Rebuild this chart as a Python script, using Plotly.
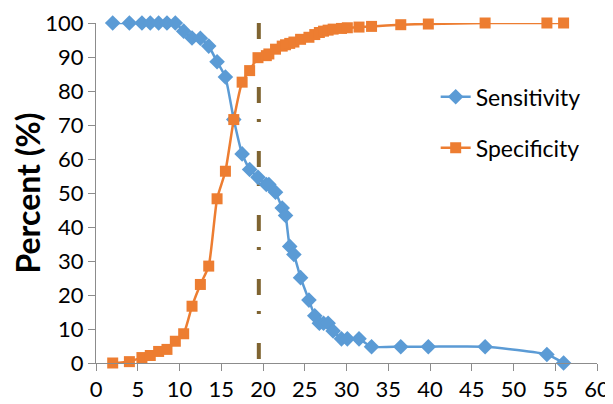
import plotly.graph_objects as go

cutoff = [2, 4, 5.5, 6.5, 7.5, 8.5, 9.5, 10.5, 11.5, 12.5, 13.5, 14.5, 15.5, 16.5,
          17.5, 18.4, 19.4, 20.4, 20.7, 21.5, 22.3, 22.7, 23.2, 23.7, 24.5, 25.5,
          26.2, 26.75, 27.25, 27.8, 28.4, 29.4, 30.1, 31.5, 33, 36.5, 39.8, 46.6, 54, 56]
sensitivity = [100, 100, 100, 100, 100, 100, 100, 97.6, 95.6, 95.5, 93.2, 88.6, 84.1, 71.6,
               61.5, 56.9, 54.6, 52.5, 52.5, 50.2, 45.6, 43.4, 34.3, 31.9, 25.1, 18.5,
               13.9, 11.7, 11.7, 11.7, 9.4, 7.1, 7.1, 7.1, 4.8, 4.8, 4.8, 4.8, 2.5, 0]
specificity = [0, 0.4, 1.6, 2.2, 3.4, 4.0, 6.4, 8.6, 16.7, 23.1, 28.5, 48.3, 56.4, 71.6,
               82.6, 86.0, 89.8, 90.4, 90.9, 92.3, 93.2, 93.6, 94.0, 94.4, 95.2, 95.8,
               96.6, 97.2, 97.6, 97.9, 98.2, 98.4, 98.6, 98.8, 99.0, 99.5, 99.7, 100, 100, 100]
cutoff_line_x = [19.5, 19.5]
cutoff_line_y = [100, 0]
x_ticks = list(range(0, 61, 5))
y_ticks = list(range(0, 101, 10))

BLUE = "#5B9BD5"
ORANGE = "#ED7D31"
AXIS = "#8C8C8C"
FONT = "Lato"

fig = go.Figure()
fig.add_trace(go.Scatter(
    x=cutoff_line_x, y=cutoff_line_y, mode="lines", showlegend=False,
    line=dict(color="#7F6431", width=4, dash="16px,16px,3px,29px"),
    hoverinfo="skip"))
fig.add_trace(go.Scatter(
    x=cutoff, y=sensitivity, name="Sensitivity", mode="lines+markers",
    line=dict(color=BLUE, width=2.5, shape="spline", smoothing=0.5),
    marker=dict(symbol="diamond", size=12, color=BLUE),
    cliponaxis=False, legendgroup="a"))
fig.add_trace(go.Scatter(
    x=cutoff, y=specificity, name="Specificity", mode="lines+markers",
    line=dict(color=ORANGE, width=2.5, shape="spline", smoothing=0.5),
    marker=dict(symbol="square", size=11, color=ORANGE),
    cliponaxis=False, legendgroup="b"))

fig.update_layout(
    width=605, height=396,
    margin=dict(l=88, r=16, t=15, b=41),
    paper_bgcolor="white", plot_bgcolor="white",
    font=dict(family=FONT, size=22, color="#000000"),
    legend=dict(x=0.678, y=0.708, xanchor="left", yanchor="middle",
                font=dict(family=FONT, size=23), tracegroupgap=18,
                bgcolor="rgba(0,0,0,0)"),
    xaxis=dict(range=[0, 60], tickvals=x_ticks, showline=True, linecolor=AXIS,
               linewidth=1, ticks="outside", ticklen=7, tickcolor=AXIS,
               showgrid=False, zeroline=False, tickfont=dict(size=22),
               automargin=False),
    yaxis=dict(range=[0, 100], tickvals=y_ticks, showline=True, linecolor=AXIS,
               linewidth=1, ticks="outside", ticklen=7, tickcolor=AXIS,
               showgrid=False, zeroline=False, tickfont=dict(size=22),
               automargin=False,
               title=dict(text="<b>Percent (%)</b>", font=dict(size=32), standoff=6)),
)
fig.write_html("out.html")
